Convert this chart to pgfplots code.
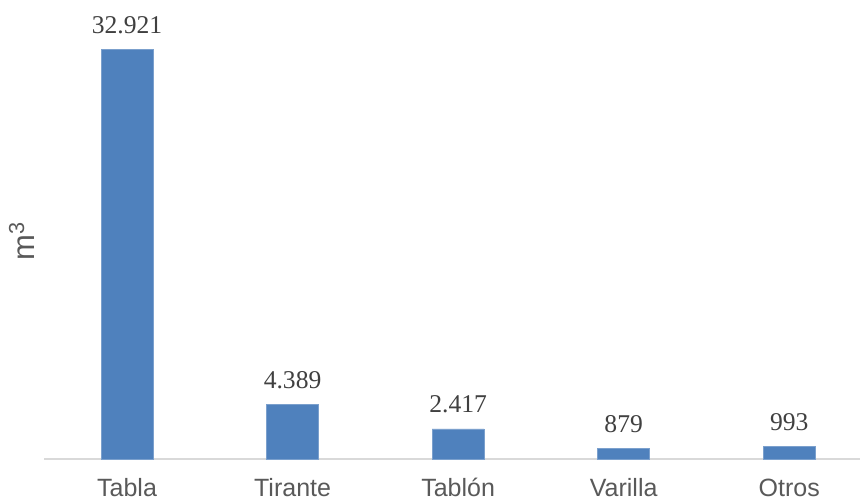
\documentclass[border=0pt]{standalone}
\usepackage{pgfplots}
\pgfplotsset{compat=1.18}
\usepackage{fontspec}
\setmainfont{Liberation Sans}
\newfontfamily\valfont{Liberation Serif}
\definecolor{barblue}{RGB}{79,129,189}
\definecolor{axisgray}{RGB}{217,217,217}
\definecolor{labelgray}{RGB}{89,89,89}
\definecolor{valgray}{RGB}{64,64,64}
\begin{document}
\begin{tikzpicture}
\begin{axis}[
  scale only axis, width=407.875pt, height=229.5pt,
  xmin=-0.5, xmax=4.4275, ymin=0, ymax=36856,
  axis lines*=left,
  x axis line style={draw=axisgray, line width=0.75pt},
  y axis line style={draw=none},
  xtick={0,...,4}, xticklabels={Tabla,Tirante,Tablón,Varilla,Otros},
  xtick style={draw=none}, major tick length=0pt,
  xticklabel style={anchor=base, inner sep=0pt, yshift=-18.5pt, font=\fontsize{12.5}{14}\selectfont, text=labelgray},
  ytick=\empty,
  ylabel={m\textsuperscript{3}},
  ylabel style={at={(axis description cs:-0.0275,0.475)}, anchor=center, inner sep=0pt, font=\fontsize{15.5}{17}\selectfont, text=labelgray},
  ybar, bar width=0.314,
  nodes near coords, point meta=explicit symbolic,
  every node near coord/.append style={anchor=base, yshift=8pt, font=\valfont\fontsize{12.8}{14}\selectfont, text=valgray},
]
\addplot[fill=barblue, draw=barblue!75!white, line width=0.3pt] table[meta=label] {
x y label
0 32921 32.921
1 4389 4.389
2 2417 2.417
3 879 879
4 993 993
};
\end{axis}
\pgfresetboundingbox
\path[use as bounding box] (-22.125pt,-20pt) rectangle (407.875pt,229.5pt);
\end{tikzpicture}
\end{document}
